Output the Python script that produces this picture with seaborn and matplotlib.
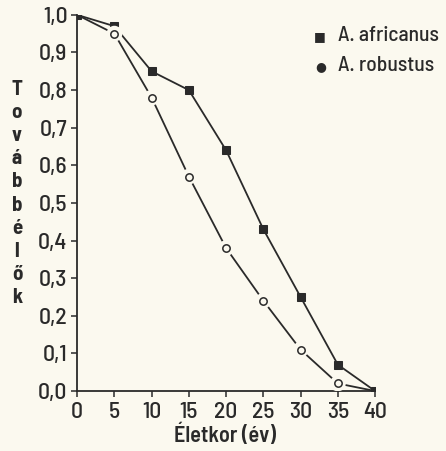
import matplotlib
matplotlib.use("Agg")
import matplotlib.pyplot as plt
import pandas as pd
import seaborn as sns

# data
ages = [0, 5, 10, 15, 20, 25, 30, 35, 40]
africanus = [1.0, 0.97, 0.85, 0.80, 0.64, 0.43, 0.25, 0.07, 0.0]
robustus = [1.0, 0.95, 0.78, 0.57, 0.38, 0.24, 0.11, 0.02, 0.0]
y_ticks = [0.0, 0.1, 0.2, 0.3, 0.4, 0.5, 0.6, 0.7, 0.8, 0.9, 1.0]
x_ticks = [0, 5, 10, 15, 20, 25, 30, 35, 40]

sns.set_style("ticks")
plt.rcParams['font.family'] = ['Barlow Semi Condensed', 'DejaVu Sans']

BG = "#fbf9ef"
INK = "#2a2a2a"

df_a = pd.DataFrame({"age": ages, "val": africanus})
df_r = pd.DataFrame({"age": ages, "val": robustus})

fig = plt.figure(figsize=(4.46, 4.51), dpi=100, facecolor=BG)
ax = fig.add_axes([0.173, 0.133, 0.668, 0.834], facecolor=BG)

sns.lineplot(data=df_a, x="age", y="val", ax=ax, color=INK, lw=1.3,
             marker="s", markersize=6, markeredgecolor=INK, markerfacecolor=INK)
sns.lineplot(data=df_r, x="age", y="val", ax=ax, color=INK, lw=1.3)
# gaps around the open circles
mid = df_r.iloc[1:-1]
sns.scatterplot(data=mid, x="age", y="val", ax=ax, s=130, color=BG,
                edgecolor="none", zorder=3)
sns.scatterplot(data=mid, x="age", y="val", ax=ax, s=28, color=BG,
                edgecolor=INK, linewidth=1.1, zorder=4)

ax.set_xlim(0, 40)
ax.set_ylim(0, 1.0)
ax.set_xticks(x_ticks)
ax.set_yticks(y_ticks)
ax.set_yticklabels([f"{v:.1f}".replace(".", ",") for v in y_ticks])
ax.tick_params(labelsize=17, colors=INK, length=4, width=1.1, pad=3)
ax.tick_params(axis="x", pad=4)
for lab in ax.get_xticklabels() + ax.get_yticklabels():
    lab.set_fontweight(500)
ax.set_xlabel("")
ax.set_ylabel("")
for s in ["top", "right"]:
    ax.spines[s].set_visible(False)
for s in ["left", "bottom"]:
    ax.spines[s].set_color(INK)
    ax.spines[s].set_linewidth(1.3)

# legend
fig.text(0.718, 0.92, "\u25a0", fontsize=9, color=INK, ha="center", va="center",
         family=['DejaVu Sans'])
fig.text(0.757, 0.922, "A. africanus", fontsize=15.5, fontweight=500, color=INK, va="center")
fig.text(0.718, 0.852, "\u25cf", fontsize=9, color=INK, ha="center", va="center",
         family=['DejaVu Sans'])
fig.text(0.757, 0.854, "A. robustus", fontsize=15.5, fontweight=500, color=INK, va="center")

# stacked y label
fig.text(0.038, 0.571, "\n".join("Továbbélők"), fontsize=15, fontweight="bold",
         color=INK, ha="center", va="center", linespacing=1.28)
fig.text(0.505, 0.012, "Életkor (év)", fontsize=16, fontweight=600,
         color=INK, ha="center", va="bottom")

fig.savefig("out.png", dpi=100, facecolor=BG)
